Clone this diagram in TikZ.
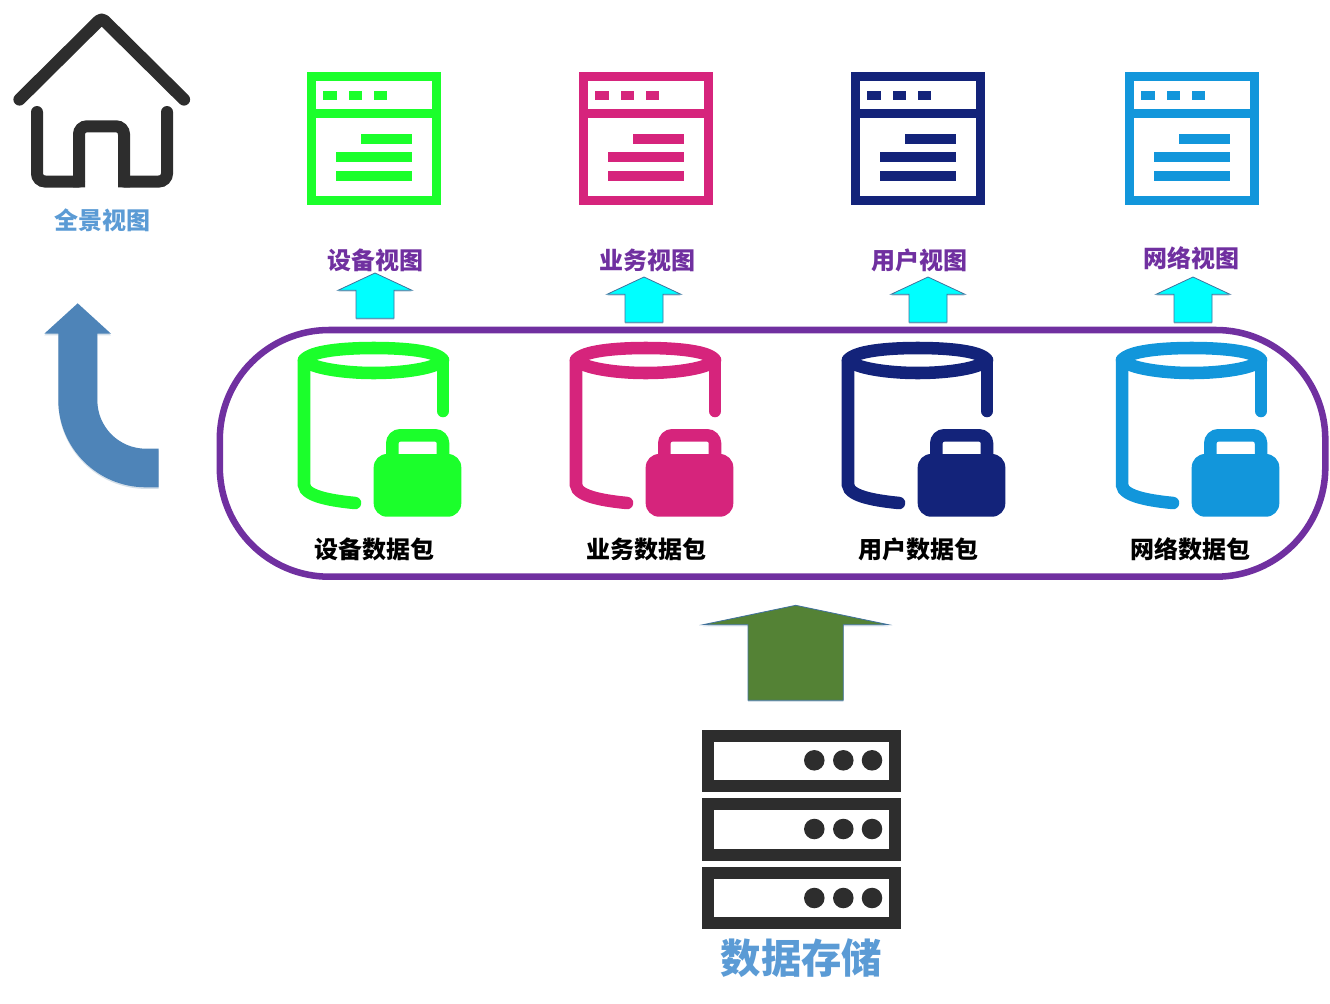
\documentclass[tikz,border=0pt]{standalone}
\usepackage{fontspec}
\usepackage{xcolor}
\usepackage{tikz}
\usetikzlibrary{shadows}
\newfontfamily\cjk{Noto Sans CJK SC}
\definecolor{devicecolour}{HTML}{1BFF2B}
\definecolor{servicecolour}{HTML}{D6247C}
\definecolor{usercolour}{HTML}{13237A}
\definecolor{networkcolour}{HTML}{1296DB}
\definecolor{inkcolour}{HTML}{2D2D2D}
\definecolor{titlecolour}{HTML}{5B9BD5}
\definecolor{viewcolour}{HTML}{7030A0}
\definecolor{edgecolour}{HTML}{41719C}
\definecolor{curvecolour}{HTML}{4E84B8}
\definecolor{feedcolour}{HTML}{548235}
\definecolor{aquacolour}{HTML}{00FFFF}
\tikzset{
  glow/.style={drop shadow={shadow xshift=0pt, shadow yshift=-1.2pt, opacity=.22, fill=edgecolour}},
  viewtext/.style={text=viewcolour, font=\cjk\bfseries\fontsize{18}{18}\selectfont},
  packtext/.style={text=black, font=\cjk\bfseries\fontsize{18}{18}\selectfont},
  hometext/.style={text=titlecolour, font=\cjk\bfseries\fontsize{18}{18}\selectfont},
  storetext/.style={text=titlecolour, font=\cjk\bfseries\fontsize{30.3}{30.3}\selectfont},
  uparrow/.style={draw=edgecolour, line width=.6pt, line join=miter, glow},
  ink/.style={draw=inkcolour, line width=9pt, line join=miter},
}
% page view icon, #1 = left edge
\newcommand\windowicon[2]{
  \begin{scope}[shift={(#1,72)}]
    \draw[#2, line width=7pt] (4.6,4.4) rectangle (129.2,128.8);
    \draw[#2, line width=7pt] (4.6,41.8) -- (129.2,41.8);
    \fill[#2] (16,18.5) rectangle (29.6,28.3);
    \fill[#2] (41.6,18.5) rectangle (54.6,28.3);
    \fill[#2] (66.6,18.5) rectangle (79.6,28.3);
    \fill[#2] (54,61.7) rectangle (104.6,71.6);
    \fill[#2] (28.7,80.4) rectangle (104.6,90.3);
    \fill[#2] (28.7,99.4) rectangle (104.6,109.3);
  \end{scope}
}
% locked cylinder, #1 = left edge of the page icon above it
\newcommand\dataicon[2]{
  \begin{scope}[shift={(#1,0)}]
    \draw[#2, line width=9.4pt, line join=round]
      (-3,360) .. controls (4,351) and (36,348) .. (66.7,348)
      .. controls (98,348) and (130,351) .. (136,360)
      .. controls (130,368) and (98,373) .. (66.7,373)
      .. controls (36,373) and (4,368) .. (-3,360) -- cycle;
    \draw[#2, line width=9.4pt, line cap=round]
      (-3,360) -- (-3,485) .. controls (-2,497) and (28,501) .. (48,503);
    \draw[#2, line width=9.4pt, line cap=round] (136,360) -- (136,411);
    \draw[#2, line width=9.4pt, rounded corners=6pt]
      (85.3,456) -- (85.3,435.3) -- (136,435.3) -- (136,456);
    \fill[#2, rounded corners=10pt] (66.7,454) rectangle (154.3,516.7);
  \end{scope}
}
\newcommand\smallarrow[1]{
  \begin{scope}[shift={(#1)}]
    \filldraw[fill=aquacolour, uparrow] (0,0) -- (37,17.3) -- (19,17.3) -- (19,45.3)
      -- (-19,45.3) -- (-19,17.3) -- (-37,17.3) -- cycle;
  \end{scope}
}

\begin{document}
\begin{tikzpicture}[x=.75pt, y=-.75pt]
  \tikzstyle{every node}=[inner sep=0pt]
  \useasboundingbox (0,0) rectangle (1330,1003);
  % whole view
  \draw[inkcolour, line width=9.2pt, line cap=round, line join=round, rounded corners=3pt]
    (19.5,99.5) -- (101.7,18) -- (184,99.5);
  \draw[inkcolour, line width=9pt, line cap=round, rounded corners=6pt]
    (37,112) -- (37,181.5) -- (79,181.5);
  \draw[inkcolour, line width=9pt, rounded corners=6pt]
    (79,187.3) -- (79,126.3) -- (124,126.3) -- (124,187.3);
  \draw[inkcolour, line width=9pt, line cap=round, rounded corners=6pt]
    (124,181.5) -- (167,181.5) -- (167,112);
  \draw (102,220) node[hometext] (whole) {全景视图};
  % the four views
  \windowicon{307}{devicecolour}
  \windowicon{579}{servicecolour}
  \windowicon{851}{usercolour}
  \windowicon{1125}{networkcolour}
  \draw (375,260.5) node[viewtext] (deviceview) {设备视图};
  \draw (647,260.5) node[viewtext] (serviceview) {业务视图};
  \draw (919,260.5) node[viewtext] (userview) {用户视图};
  \draw (1191,258.5) node[viewtext] (networkview) {网络视图};
  \smallarrow{375,273}
  \smallarrow{644,277}
  \smallarrow{928,277}
  \smallarrow{1193,277}
  % curved arrow to the whole view
  \fill[curvecolour, glow] (97.3,400) .. controls (97.3,427) and (119,448.7) .. (146,448.7)
    -- (158.7,448.7) -- (158.7,487.3) -- (146,487.3)
    .. controls (97.5,487.3) and (58.3,448) .. (58.3,400)
    -- (58.3,333.7) -- (44.3,333.7) -- (77.7,303.3) -- (111,333.7) -- (97.3,333.7) -- cycle;
  % data packs
  \draw[viewcolour, line width=4.9pt, rounded corners=82pt] (219.8,330) rectangle (1325.3,576.7);
  \dataicon{307}{devicecolour}
  \dataicon{579}{servicecolour}
  \dataicon{851}{usercolour}
  \dataicon{1125}{networkcolour}
  \draw (374.2,549.5) node[packtext] (devicepack) {设备数据包};
  \draw (646.2,549.5) node[packtext] (servicepack) {业务数据包};
  \draw (918.2,549.5) node[packtext] (userpack) {用户数据包};
  \draw (1190.2,549.5) node[packtext] (networkpack) {网络数据包};
  % storage
  \filldraw[fill=feedcolour, uparrow] (795.7,605.3) -- (888.5,624.7) -- (843.3,624.7) -- (843.3,700.3)
    -- (748,700.3) -- (748,624.7) -- (703,624.7) -- cycle;
  \foreach \rowtop/\rowmid in {730/760.3, 798.3/829, 866.7/898} {
    \draw[ink] (707.8,\rowtop+6) rectangle (894.6,\rowtop+56.2);
    \foreach \dotx in {814.3, 843.3, 872}
      \fill[inkcolour] (\dotx,\rowmid) circle (7.7pt);
  }
  \draw (801.5,958) node[storetext] (store) {数据存储};
\end{tikzpicture}
\end{document}
